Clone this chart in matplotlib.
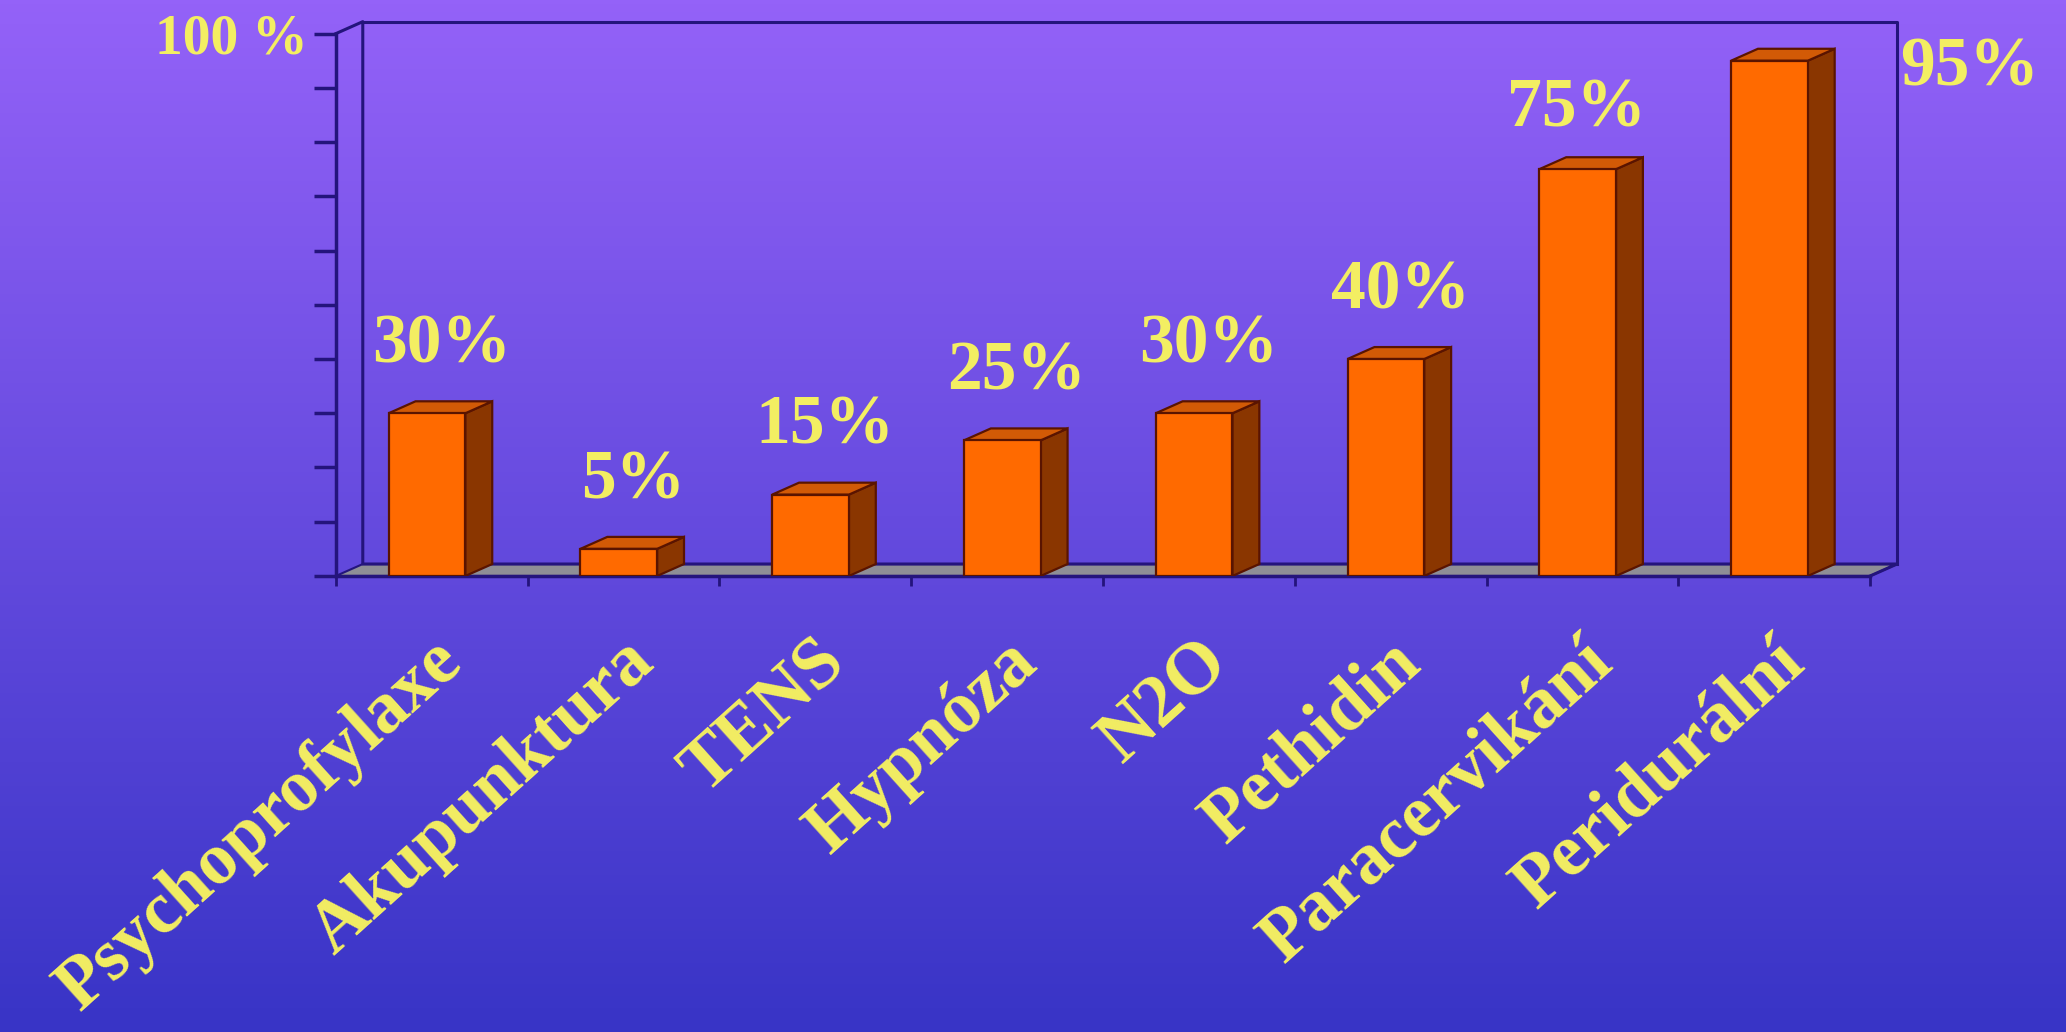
import numpy as np
import matplotlib.pyplot as plt

# data
categories = ['Psychoprofylaxe', 'Akupunktura', 'TENS', 'Hypnóza', 'N2O',
              'Pethidin', 'Paracervikání', 'Peridurální']
values = [30, 5, 15, 25, 30, 40, 75, 95]
value_labels = ['30%', '5%', '15%', '25%', '30%', '40%', '75%', '95%']

# styling
navy = '#24147c'
yellow = '#f3ee62'
front_col = '#ff6a00'
top_col = '#d25a06'
side_col = '#8a3600'
edge_col = '#5a1400'
floor_col = '#8e8e96'
serif = ['Liberation Serif', 'DejaVu Serif']

dx, dy = 0.14, 2.2     # depth offset for the fake 3d look
bar_w = 0.40
bar_off = 0.275

fig = plt.figure(figsize=(20.66, 10.32), dpi=100)

# gradient background
bg = fig.add_axes([0, 0, 1, 1], zorder=-5)
top_rgb = np.array([148, 98, 248]) / 255
bot_rgb = np.array([56, 52, 198]) / 255
t = np.linspace(0, 1, 256)[:, None]
grad = top_rgb * (1 - t) + bot_rgb * t
bg.imshow(grad[:, None, :], aspect='auto', extent=[0, 1, 0, 1])
bg.axis('off')

ax = fig.add_axes([0.1626, 0.4419, 0.7556, 0.5387])
ax.patch.set_alpha(0)
n = len(categories)
ax.set_xlim(0, n + dx)
ax.set_ylim(0, 100 + dy + 0.3)

# floor
ax.fill([0, n, n + dx, dx], [0, 0, dy, dy], color=floor_col,
        ec=navy, lw=1.5, zorder=1, clip_on=False)
# back wall outline
ax.plot([0, dx, dx, n + dx, n + dx, n], [100, 100 + dy, dy, dy, dy, 0],
        color=navy, lw=2.2, zorder=1, clip_on=False)
ax.plot([dx, n + dx, n + dx], [100 + dy, 100 + dy, dy],
        color=navy, lw=2.2, zorder=1, clip_on=False)

# bars
x0 = np.arange(n) + bar_off
ax.bar(x0, values, width=bar_w, align='edge', color=front_col,
       edgecolor=edge_col, linewidth=1.6, zorder=4)
for x, v in zip(x0, values):
    xr = x + bar_w
    ax.fill([xr, xr + dx, xr + dx, xr], [0, dy, v + dy, v],
            color=side_col, ec=edge_col, lw=1.6, zorder=3)
    ax.fill([x, x + dx, xr + dx, xr], [v, v + dy, v + dy, v],
            color=top_col, ec=edge_col, lw=1.6, zorder=3)

# value labels
for i, (v, lab) in enumerate(zip(values, value_labels)):
    if i == n - 1:
        lx, ly = n + 0.52, v - 1.5
    elif i == n - 2:
        lx, ly = i + 0.47, v + 11
    else:
        lx, ly = i + 0.55, v + 12.5
    ax.text(lx, ly, lab, ha='center', va='center', fontsize=50,
            fontweight='bold', family=serif, color=yellow, clip_on=False)

# category labels
for i, lab in enumerate(categories):
    ax.text(i + 0.49, -9.5, lab, rotation=42, rotation_mode='anchor',
            ha='right', va='top', fontsize=53, fontweight='bold',
            family=serif, color=yellow, clip_on=False)

# axes lines and ticks
for s in ['top', 'right']:
    ax.spines[s].set_visible(False)
ax.spines['left'].set_bounds(0, 100)
ax.spines['bottom'].set_bounds(0, n)
for s in ['left', 'bottom']:
    ax.spines[s].set_color(navy)
    ax.spines[s].set_linewidth(2.5)
ax.set_yticks(range(0, 101, 10), labels=[''] * 10 + ['100 %'])
ax.set_xticks(range(n + 1), labels=[''] * (n + 1))
ax.tick_params(axis='y', length=16, width=2.5, color=navy, pad=4,
               labelsize=40, labelcolor=yellow)
ax.tick_params(axis='x', length=7, width=2, color=navy)
for lbl in ax.get_yticklabels():
    lbl.set_fontfamily(serif)
    lbl.set_fontweight('bold')

fig.savefig('out.png', dpi=100)
